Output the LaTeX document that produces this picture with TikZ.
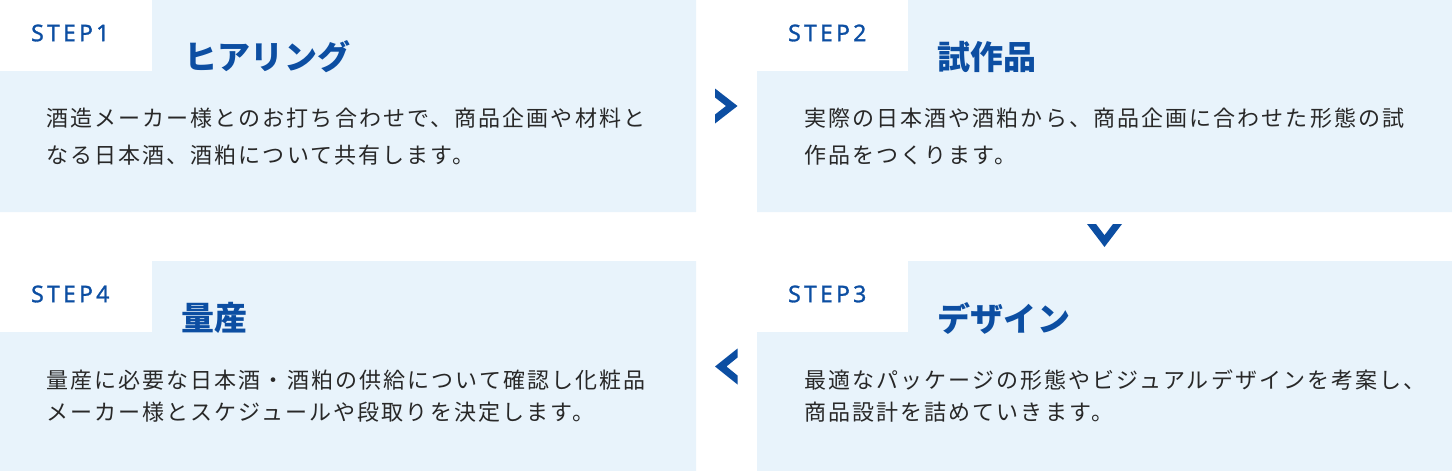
\documentclass[tikz,border=0pt]{standalone}
\usepackage{fontspec}
\newfontfamily\bodyfont{Noto Sans CJK JP}[LetterSpace=9.5]
\newfontfamily\titlefont{Noto Sans CJK JP}[LetterSpace=1]
\newfontfamily\stepfont{Noto Sans}[LetterSpace=14,FakeBold=1.2]
\definecolor{panelbg}{RGB}{232,243,251}
\definecolor{mainblue}{RGB}{12,78,162}
\definecolor{bodytext}{RGB}{40,40,40}
\tikzset{
  panel/.style={fill=panelbg},
  steplabel/.style={inner sep=0pt, anchor=west, text=mainblue, font=\stepfont\fontsize{23}{23}\selectfont},
  titlelabel/.style={inner sep=0pt, anchor=west, text=mainblue, font=\titlefont\bfseries\fontsize{33}{33}\selectfont},
  bodyline/.style={inner sep=0pt, anchor=west, text=bodytext, font=\bodyfont\fontsize{22}{22}\selectfont},
  chevron/.style={fill=mainblue}
}
\begin{document}
\begin{tikzpicture}[x=1pt,y=-1pt]
\useasboundingbox (0,0) rectangle (1452,471);
% panels
\fill[panel] (152,0) -- (696,0) -- (696,212) -- (0,212) -- (0,71) -- (152,71) -- cycle;
\fill[panel] (908,0) -- (1452,0) -- (1452,212) -- (757,212) -- (757,71) -- (908,71) -- cycle;
\fill[panel] (908,261) -- (1452,261) -- (1452,471) -- (757,471) -- (757,332) -- (908,332) -- cycle;
\fill[panel] (152,261) -- (696,261) -- (696,471) -- (0,471) -- (0,332) -- (152,332) -- cycle;
% step labels
\node[steplabel] (s1) at (31,33) {STEP1};
\node[steplabel] (s2) at (788,33) {STEP2};
\node[steplabel] (s3) at (788,294) {STEP3};
\node[steplabel] (s4) at (31,294) {STEP4};
% titles
\node[titlelabel] (t1) at (184,57) {ヒアリング};
\node[titlelabel] (t2) at (937,57) {試作品};
\node[titlelabel] (t3) at (937,318) {デザイン};
\node[titlelabel] (t4) at (181,318) {量産};
% body
\node[bodyline] (b1a) at (46,118) {酒造メーカー様とのお打ち合わせで、商品企画や材料と};
\node[bodyline] (b1b) at (46,155) {なる日本酒、酒粕について共有します。};
\node[bodyline] (b2a) at (804,118) {実際の日本酒や酒粕から、商品企画に合わせた形態の試};
\node[bodyline] (b2b) at (804,155) {作品をつくります。};
\node[bodyline] (b3a) at (804,380) {最適なパッケージの形態やビジュアルデザインを考案し、};
\node[bodyline] (b3b) at (804,412) {商品設計を詰めていきます。};
\node[bodyline] (b4a) at (46,380) {量産に必要な日本酒・酒粕の供給について確認し化粧品};
\node[bodyline] (b4b) at (46,412) {メーカー様とスケジュールや段取りを決定します。};
% chevrons
\fill[chevron] (715,88.5) -- (737.5,106) -- (715,123.5) -- (715,114.5) -- (726,106) -- (715,97.5) -- cycle;
\fill[chevron] (1087,224) -- (1104.5,247) -- (1122,224) -- (1113,224) -- (1104.5,235.2) -- (1096,224) -- cycle;
\fill[chevron] (737.5,348.5) -- (715,366.5) -- (737.5,384.5) -- (737.5,375.5) -- (726.5,366.5) -- (737.5,357.5) -- cycle;
\end{tikzpicture}
\end{document}
